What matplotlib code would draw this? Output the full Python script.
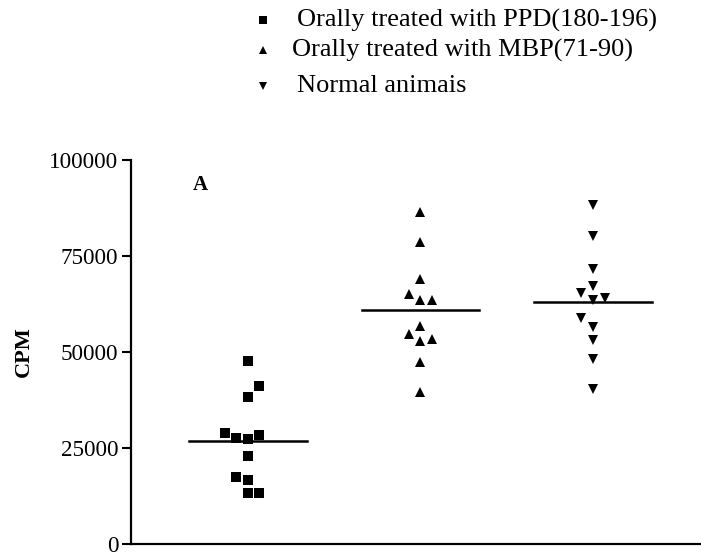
import matplotlib
matplotlib.use("Agg")
import matplotlib.pyplot as plt
from matplotlib.lines import Line2D
import numpy as np

plt.rcParams['font.family'] = ['Liberation Serif', 'DejaVu Serif']

# Data (CPM values)
ppd_values = [47700, 41100, 38200, 29000, 27500, 27300, 28500, 23000, 17500, 16700, 13200, 13200]
mbp_values = [86500, 78600, 69000, 65000, 63500, 63500, 56800, 54700, 52900, 53400, 47300, 39500]
normal_values = [88300, 80300, 71600, 67300, 65400, 63500, 64000, 58900, 56600, 53100, 48300, 40300]
group_labels = ["Orally treated with PPD(180-196)", "Orally treated with MBP(71-90)", "Normal animais"]
y_ticks = [0, 25000, 50000, 75000, 100000]

# Layout: horizontal scatter offsets (in marker widths) to avoid overlap
ppd_jitter = [0, 1, 0, -2, -1, 0, 1, 0, -1, 0, 0, 1]
mbp_jitter = [0, 0, 0, -1, 0, 1, 0, -1, 0, 1, 0, 0]
normal_jitter = [0, 0, 0, 0, -1, 0, 1, -1, 0, 0, 0, 0]

W, H = 701, 556
fig = plt.figure(figsize=(W / 100, H / 100), dpi=100)
ax = fig.add_axes([131 / W, (H - 544) / H, (W - 131) / W, (544 - 160) / H])

markers = ['s', '^', 'v']
groups = [ppd_values, mbp_values, normal_values]
jitters = [ppd_jitter, mbp_jitter, normal_jitter]
step = 0.0667
for i, (vals, jit, m) in enumerate(zip(groups, jitters, markers)):
    xpos = i + 1 + np.array(jit) * step
    ax.plot(xpos, vals, linestyle='none', marker=m, markersize=7.4, color='black',
            markeredgewidth=0, clip_on=False)
    mean = np.mean(vals)
    ax.plot([i + 1 - 0.34, i + 1 + 0.34], [mean, mean], color='black', linewidth=1.8)

ax.set_xlim(0.322, 3.626)
ax.set_ylim(0, 100000)
ax.set_yticks(y_ticks)
ax.set_yticklabels([str(t) for t in y_ticks], fontsize=16.7)
ax.set_xticks([])
ax.spines['top'].set_visible(False)
ax.spines['right'].set_visible(False)
ax.spines['left'].set_linewidth(1.6)
ax.spines['bottom'].set_linewidth(1.6)
ax.tick_params(axis='y', length=6.5, width=1.5, pad=2.5)
ax.set_ylabel('CPM', fontsize=16, fontweight='bold', labelpad=11)
fig.text(200 / W, 1 - 185 / H, 'A', fontsize=15, fontweight='bold', ha='center', va='center')

# Legend (manual)
leg_y = [20, 50, 86]
leg_mx = [263, 263, 263]
leg_tx = [297, 292, 297]
for m, yy, mx, tx, lab in zip(markers, leg_y, leg_mx, leg_tx, group_labels):
    fig.lines.append(Line2D([mx / W], [1 - yy / H], marker=m, markersize=5.2,
                            color='black', markeredgewidth=0,
                            transform=fig.transFigure))
    fig.text(tx / W, 1 - yy / H, lab, fontsize=19, ha='left', va='center')

fig.savefig('out.png', dpi=100)
